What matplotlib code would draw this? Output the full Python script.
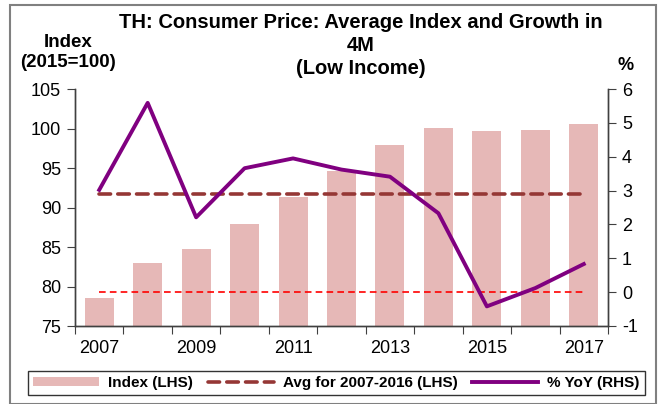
"""
TH: precio al consumidor (bajo ingreso) - indice promedio y crecimiento en 4M.
"""
import matplotlib
matplotlib.use("Agg")
import matplotlib.pyplot as plt
from matplotlib.patches import Rectangle
import numpy as np

anios = [2007, 2008, 2009, 2010, 2011, 2012, 2013, 2014, 2015, 2016, 2017]
indice = [78.6, 83.0, 84.7, 87.9, 91.3, 94.6, 97.85, 100.1, 99.7, 99.8, 100.6]
yoy = [3.02, 5.59, 2.21, 3.66, 3.95, 3.62, 3.41, 2.33, -0.42, 0.12, 0.83]
promedio = 91.76
cero = 0.0

plt.rcParams["font.family"] = ["Liberation Sans", "DejaVu Sans"]
plt.rcParams["axes.unicode_minus"] = False

fig = plt.figure(figsize=(6.62, 4.04), dpi=100)
ax = fig.add_axes([75 / 662, 1 - 326 / 404, 533 / 662, 237 / 404])
ax2 = ax.twinx()

x = np.arange(len(anios))
barras = ax.bar(x, indice, width=0.6, color="#E6B8B7", zorder=1, label="Index (LHS)")
linea_prom, = ax.plot([x[0], x[-1]], [promedio, promedio], color="#953735", lw=2.6,
                      dashes=(3.2, 2.0), dash_capstyle="round", zorder=3,
                      label="Avg for 2007-2016 (LHS)")
ax2.plot([x[0], x[-1]], [cero, cero], color="#FF0000", lw=1.2, dashes=(4, 2.5), zorder=2)
linea_yoy, = ax2.plot(x, yoy, color="#800080", lw=2.8, zorder=4, label="% YoY (RHS)")

ax.set_xlim(-0.5, len(anios) - 0.5)
ax.set_ylim(75, 105)
ax2.set_ylim(-1, 6)
ax.set_yticks(np.arange(75, 106, 5))
ax2.set_yticks(np.arange(-1, 7, 1))

# marcas en los limites de categoria, etiquetas cada dos anios
ax.set_xticks(np.arange(-0.5, len(anios), 1.0))
ax.set_xticklabels([])
ax.set_xticks(x[::2], minor=True)
ax.set_xticklabels([str(a) for a in anios[::2]], minor=True)
ax.tick_params(axis="x", which="minor", length=0, pad=10, labelsize=13)
ax.tick_params(axis="x", which="major", direction="out", length=6, color="#404040")
ax.tick_params(axis="y", direction="out", length=6, color="#404040", labelsize=13, pad=4)
ax2.tick_params(axis="y", direction="out", length=6, color="#404040", labelsize=13, pad=4)

for a in (ax, ax2):
    a.spines["top"].set_visible(False)
    for s in ("left", "right", "bottom"):
        a.spines[s].set_color("#404040")
        a.spines[s].set_linewidth(1.0)

fig.text(361 / 662, 1 - 13 / 404,
         "TH: Consumer Price: Average Index and Growth in\n4M\n(Low Income)",
         ha="center", va="top", fontsize=14.5, fontweight="bold", linespacing=1.27)
fig.text(68 / 662, 1 - 34 / 404, "Index\n(2015=100)", ha="center", va="top",
         fontsize=13.5, fontweight="bold", linespacing=1.2)
fig.text(626 / 662, 1 - 65 / 404, "%", ha="center", va="center",
         fontsize=13, fontweight="bold")

leg = fig.legend(handles=[barras, linea_prom, linea_yoy], ncol=3, loc="center",
                 bbox_to_anchor=(28 / 662, 1 - 397 / 404, 617 / 662, 28 / 404),
                 mode="expand", frameon=True, fancybox=False, edgecolor="black",
                 prop={"weight": "bold", "size": 11}, handlelength=4.3,
                 handleheight=0.5, columnspacing=0.8, handletextpad=0.6,
                 borderpad=0.35, borderaxespad=0)
leg.get_frame().set_linewidth(1.0)

# marco exterior gris
fig.patches.append(Rectangle((10 / 662, 0), 646 / 662, 1 - 5 / 404, transform=fig.transFigure,
                             fill=False, edgecolor="#808080", lw=1.5))

fig.savefig("out.png", dpi=100)
